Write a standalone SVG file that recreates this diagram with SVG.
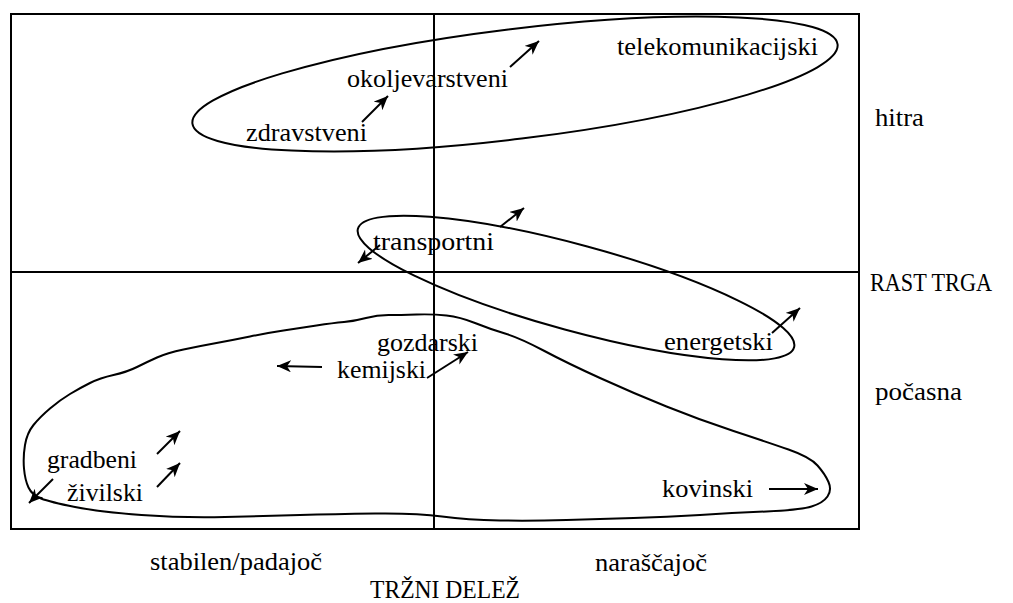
<svg xmlns="http://www.w3.org/2000/svg" width="1013" height="603" viewBox="0 0 1013 603">
<style>
.ln{fill:none;stroke:#000;stroke-width:2;stroke-linejoin:round;stroke-linecap:round}
.ar{fill:none;stroke:#000;stroke-width:2;marker-end:url(#ah)}
text{font-family:"Liberation Serif","Times New Roman",serif;font-size:26px;fill:#000}
</style>
<defs>
<marker id="ah" markerUnits="userSpaceOnUse" markerWidth="16" markerHeight="14" refX="14" refY="6" orient="auto">
<path d="M0,0 L14,6 L0,12 L4,6 z" fill="#000"/>
</marker>
</defs>
<rect width="1013" height="603" fill="#fff"/>
<g id="frame">
<rect x="11" y="14" width="848" height="515" fill="none" stroke="#000" stroke-width="2"/>
<line x1="434" y1="14" x2="434" y2="529" stroke="#000" stroke-width="2"/>
<line x1="11" y1="272" x2="859" y2="272" stroke="#000" stroke-width="2"/>
</g>
<g id="group-fast">
<ellipse class="ln" cx="515" cy="84" rx="325" ry="55" transform="rotate(-7 515 84)"/>
</g>
<g id="group-transport">
<ellipse class="ln" cx="576" cy="288" rx="226" ry="43" transform="rotate(15.2 576 288)"/>
</g>
<g id="group-slow">
<path class="ln" d="M475,323 Q460,317 446.5,315.5 Q433,314 416.5,314.5 Q400,315 388.5,315 Q377,315 366,318 Q355,321 344,322 Q333,323 316.5,325.5 Q300,328 283.5,330.5 Q267,333 250,336.5 Q233,340 216.5,343 Q200,346 183.5,349.5 Q167,353 157,357.5 Q147,362 137,367 Q127,372 113.5,375 Q100,378 90,383 Q80,388 70,394 Q60,400 50,408.5 Q40,417 33.5,425 Q27,433 25,445 Q23,457 24,468.5 Q25,480 28.5,487.5 Q32,495 41,498.5 Q50,502 75,507 Q100,512 141.5,515 Q183,518 225,517 Q267,516 300,515 Q333,514 375,513.5 Q417,513 442,516.5 Q467,520 500,520.5 Q533,521 566.5,520 Q600,519 633.5,518 Q667,517 700,515 Q733,513 766.5,511.5 Q800,510 811.5,506.5 Q823,503 827.5,496.5 Q832,490 828.5,482 Q825,474 817.5,465.5 Q810,457 788.5,449.5 Q767,442 733.5,431 Q700,420 666.5,406.5 Q633,393 600,378 Q567,363 543.5,350.5 Q520,338 505,333.5 Q490,329 475,323 Z"/>
</g>
<g id="labels">
<text x="617" y="55" textLength="201" lengthAdjust="spacingAndGlyphs">telekomunikacijski</text>
<text x="347" y="87" textLength="161" lengthAdjust="spacingAndGlyphs">okoljevarstveni</text>
<text x="246" y="141" textLength="121" lengthAdjust="spacingAndGlyphs">zdravstveni</text>
<text x="373" y="250" textLength="121" lengthAdjust="spacingAndGlyphs">transportni</text>
<text x="664" y="350" textLength="109" lengthAdjust="spacingAndGlyphs">energetski</text>
<text x="377" y="351" textLength="101" lengthAdjust="spacingAndGlyphs">gozdarski</text>
<text x="337" y="378" textLength="89" lengthAdjust="spacingAndGlyphs">kemijski</text>
<text x="47" y="468" textLength="90" lengthAdjust="spacingAndGlyphs">gradbeni</text>
<text x="67" y="501" textLength="76" lengthAdjust="spacingAndGlyphs">živilski</text>
<text x="662" y="497" textLength="91" lengthAdjust="spacingAndGlyphs">kovinski</text>
<text x="875" y="126" textLength="49" lengthAdjust="spacingAndGlyphs">hitra</text>
<text x="870" y="291" font-size="22" textLength="122" lengthAdjust="spacingAndGlyphs">RAST TRGA</text>
<text x="875" y="400" textLength="87" lengthAdjust="spacingAndGlyphs">počasna</text>
<text x="150" y="570" textLength="172" lengthAdjust="spacingAndGlyphs">stabilen/padajoč</text>
<text x="595" y="571" textLength="112" lengthAdjust="spacingAndGlyphs">naraščajoč</text>
<text x="370" y="598" textLength="150" lengthAdjust="spacingAndGlyphs">TRŽNI DELEŽ</text>
</g>
<g id="connectors">
<line class="ar" x1="362" y1="122" x2="388" y2="96"/>
<line class="ar" x1="510" y1="67" x2="539" y2="41"/>
<line class="ar" x1="500" y1="227" x2="524" y2="208"/>
<line class="ar" x1="380" y1="245" x2="358" y2="263"/>
<line class="ar" x1="772" y1="333" x2="800" y2="308"/>
<line class="ar" x1="322" y1="367" x2="277" y2="366"/>
<line class="ar" x1="427" y1="378" x2="468" y2="352"/>
<line class="ar" x1="157" y1="454" x2="180" y2="431"/>
<line class="ar" x1="157" y1="487" x2="180" y2="463"/>
<line class="ar" x1="53" y1="479" x2="29" y2="503"/>
<line class="ar" x1="769" y1="489" x2="818" y2="489"/>
</g>
</svg>
